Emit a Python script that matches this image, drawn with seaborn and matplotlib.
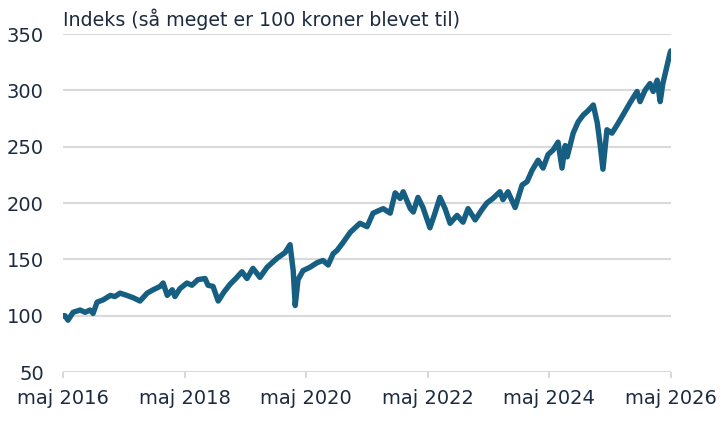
import pandas as pd
import numpy as np
import seaborn as sns
import matplotlib.pyplot as plt

# Indeks-data (dato, værdi)
datoer = [
    "2016-05-01", "2016-05-11", "2016-05-29", "2016-06-29", "2016-08-10", "2016-09-09",
    "2016-10-09", "2016-10-27", "2016-11-20", "2016-12-26", "2017-02-08", "2017-03-07",
    "2017-04-07", "2017-05-18", "2017-06-24", "2017-08-05", "2017-09-17", "2017-10-23",
    "2017-12-04", "2017-12-22", "2018-01-16", "2018-02-15", "2018-03-03", "2018-04-02",
    "2018-05-14", "2018-06-13", "2018-07-19", "2018-08-31", "2018-09-18", "2018-10-18",
    "2018-11-18", "2018-12-23", "2019-01-29", "2019-03-04", "2019-04-10", "2019-05-10",
    "2019-06-15", "2019-07-27", "2019-09-08", "2019-11-07", "2019-12-25", "2020-01-24",
    "2020-02-12", "2020-02-24", "2020-03-12", "2020-04-11", "2020-05-23", "2020-07-04",
    "2020-08-09", "2020-09-09", "2020-10-09", "2020-11-02", "2020-12-08", "2021-01-20",
    "2021-03-19", "2021-05-01", "2021-06-06", "2021-08-06", "2021-09-17", "2021-10-17",
    "2021-11-16", "2021-12-04", "2022-01-16", "2022-02-03", "2022-03-03", "2022-04-02",
    "2022-05-14", "2022-06-13", "2022-07-13", "2022-08-13", "2022-09-12", "2022-10-24",
    "2022-11-29", "2022-12-29", "2023-02-10", "2023-03-22", "2023-04-21", "2023-05-27",
    "2023-07-09", "2023-07-27", "2023-08-26", "2023-10-08", "2023-11-19", "2023-12-19",
    "2024-01-18", "2024-02-23", "2024-03-24", "2024-04-23", "2024-05-23", "2024-06-22",
    "2024-07-16", "2024-08-04", "2024-08-16", "2024-09-21", "2024-10-21", "2024-11-20",
    "2024-12-20", "2025-01-20", "2025-02-13", "2025-03-01", "2025-03-19", "2025-04-12",
    "2025-05-12", "2025-06-11", "2025-07-17", "2025-08-29", "2025-10-10", "2025-10-28",
    "2025-11-27", "2025-12-27", "2026-01-15", "2026-02-08", "2026-02-26", "2026-03-14",
    "2026-04-07", "2026-04-26", "2026-05-01",
]
indeks = [
    100, 100, 96, 103, 105, 103,
    105, 102, 112, 114, 118, 117,
    120, 118, 116, 113, 120, 123,
    126, 129, 118, 123, 117, 124,
    129, 127, 132, 133, 127, 126,
    113, 121, 128, 133, 139, 133,
    142, 134, 143, 151, 156, 163,
    140, 109, 132, 140, 143, 147,
    149, 145, 155, 158, 165, 174,
    182, 179, 191, 195, 191, 209,
    204, 210, 195, 192, 205, 196,
    178, 191, 205, 195, 182, 189,
    183, 195, 185, 194, 200, 204,
    210, 203, 210, 196, 216, 219,
    229, 238, 231, 243, 247, 254,
    231, 251, 241, 262, 272, 278,
    282, 287, 271, 253, 230, 265,
    262, 269, 278, 289, 299, 290,
    300, 306, 299, 309, 290, 306,
    321, 333, 335,
]
tick_datoer = ["2016-05-01", "2018-05-01", "2020-05-01", "2022-05-01", "2024-05-01", "2026-05-01"]
tick_labels = ["maj 2016", "maj 2018", "maj 2020", "maj 2022", "maj 2024", "maj 2026"]
y_ticks = [50, 100, 150, 200, 250, 300, 350]

df = pd.DataFrame({"dato": pd.to_datetime(datoer), "indeks": indeks})

sns.set_theme(style="white")
plt.rcParams["font.family"] = ["DejaVu Sans"]
tekstfarve = "#1c2b40"
gitterfarve = "#d9d9d9"

fig = plt.figure(figsize=(7.26, 4.24), dpi=100)
ax = fig.add_axes([0.0872, 0.1226, 0.8368, 0.7972])

sns.lineplot(data=df, x="dato", y="indeks", ax=ax, color="#175f82", linewidth=3.9,
             solid_capstyle="round", solid_joinstyle="round", zorder=3)

ax.set_xlim(pd.Timestamp("2016-05-01"), pd.Timestamp("2026-05-01"))
ax.set_ylim(50, 350)
ax.set_yticks(y_ticks)
ax.set_xticks(pd.to_datetime(tick_datoer))
ax.set_xticklabels(tick_labels)

for s in ax.spines.values():
    s.set_visible(False)
ax.grid(axis="y", color=gitterfarve, linewidth=1.5)
ax.grid(axis="x", visible=False)
ax.tick_params(axis="y", length=0, pad=14, labelsize=14, labelcolor=tekstfarve)
ax.tick_params(axis="x", length=4.5, width=1.5, color=gitterfarve, pad=8,
               labelsize=14, labelcolor=tekstfarve, bottom=True)
ax.set_xlabel("")
ax.set_ylabel("")

ax.annotate("Indeks (så meget er 100 kroner blevet til)", xy=(0, 1), xycoords="axes fraction",
            xytext=(0, 6), textcoords="offset points", ha="left", va="baseline",
            fontsize=13.7, color=tekstfarve)

fig.savefig("out.png", dpi=100)
